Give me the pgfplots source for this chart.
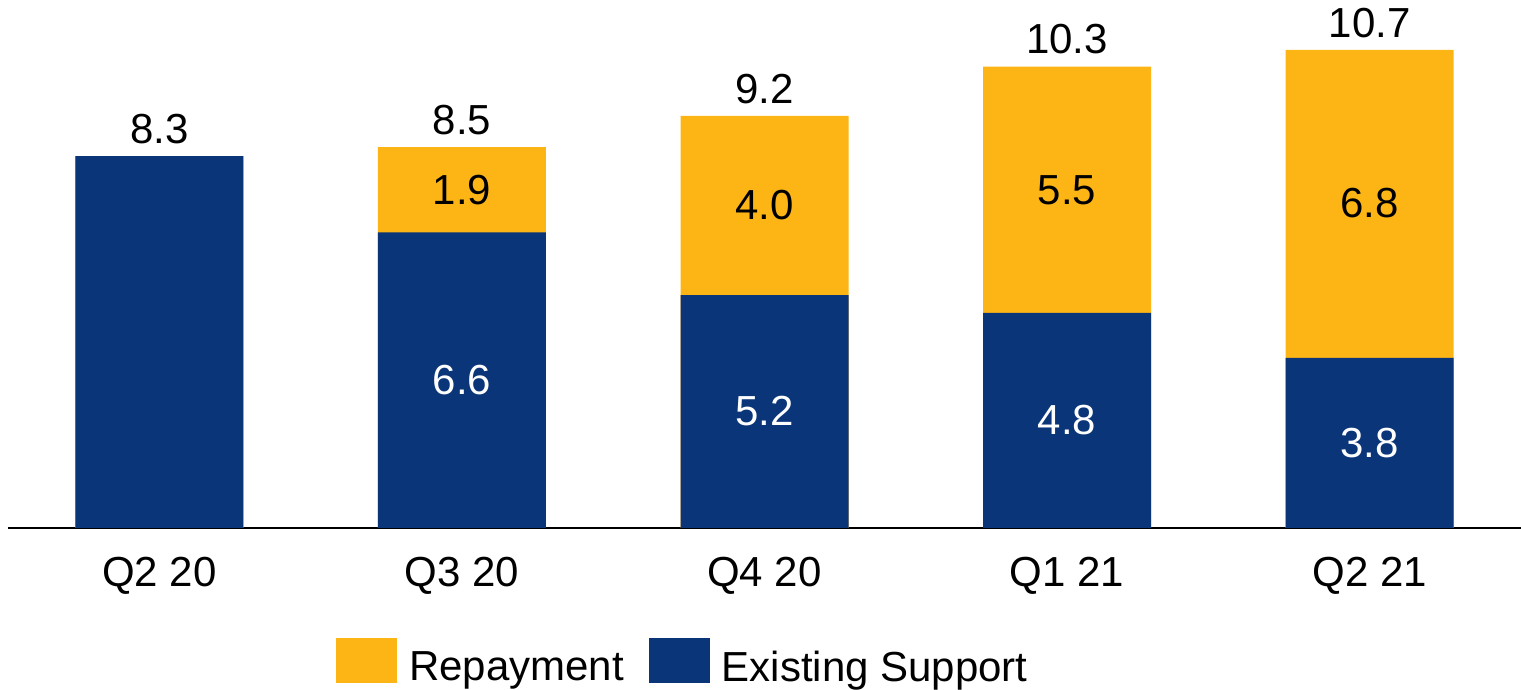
\documentclass[border=0pt]{standalone}
\usepackage{pgfplots}
\pgfplotsset{compat=1.18}
\usepackage{fontspec}
\setmainfont{Liberation Sans}
\definecolor{rep}{HTML}{FDB515}
\definecolor{sup}{HTML}{0A3578}
\newcommand{\lbl}{\fontsize{21}{25}\selectfont}
\begin{document}
\begin{tikzpicture}
\begin{axis}[
  scale only axis, width=756.5pt, height=264pt,
  xmin=-0.5, xmax=4.5, ymin=0, ymax=11.786,
  clip=false,
  axis x line*=bottom, axis y line=none,
  x axis line style={line width=1pt, black, -},
  ybar, bar width=84pt, bar shift=0pt,
  xtick={0,1,2,3,4}, xticklabels={Q2 20,Q3 20,Q4 20,Q1 21,Q2 21},
  major tick length=0pt,
  xticklabel style={font=\lbl, inner sep=0pt, anchor=north, yshift=-14.5pt},
  legend style={at={(0.2168,-0.2526)}, anchor=west, draw=none, fill=none,
    inner sep=0pt, outer sep=0pt, font=\lbl, legend columns=-1,
    nodes={inner sep=0pt},
    /tikz/every even column/.append style={column sep=12.5pt},
    /tikz/every odd column/.append style={column sep=6pt}},
  legend image code/.code={\fill[#1] (0pt,-7.5pt) rectangle (30.5pt,15pt);},
]
\addplot[fill=rep, draw=none, nodes near coords, point meta=explicit symbolic,
  nodes near coords style={font=\lbl, anchor=south, inner sep=0pt, yshift=6pt, text=black}]
  coordinates {(0,8.3)[8.3] (1,8.5)[8.5] (2,9.2)[9.2] (3,10.3)[10.3] (4,10.67)[10.7]};
\addlegendentry{Repayment}
\addplot[fill=sup, draw=none]
  coordinates {(0,8.3) (1,6.6) (2,5.2) (3,4.8) (4,3.8)};
\addlegendentry{Existing Support}
\addplot[draw=none, fill=none, forget plot, nodes near coords, point meta=explicit symbolic,
  nodes near coords style={font=\lbl, anchor=center, inner sep=0pt, text=black}]
  coordinates {(1,7.55)[1.9] (2,7.2)[4.0] (3,7.55)[5.5] (4,7.25)[6.8]};
\addplot[draw=none, fill=none, forget plot, nodes near coords, point meta=explicit symbolic,
  nodes near coords style={font=\lbl, anchor=center, inner sep=0pt, text=white}]
  coordinates {(1,3.3)[6.6] (2,2.6)[5.2] (3,2.4)[4.8] (4,1.9)[3.8]};
\end{axis}
\pgfresetboundingbox
\path (-4pt,-81pt) rectangle (756.5pt,264pt);
\end{tikzpicture}
\end{document}
